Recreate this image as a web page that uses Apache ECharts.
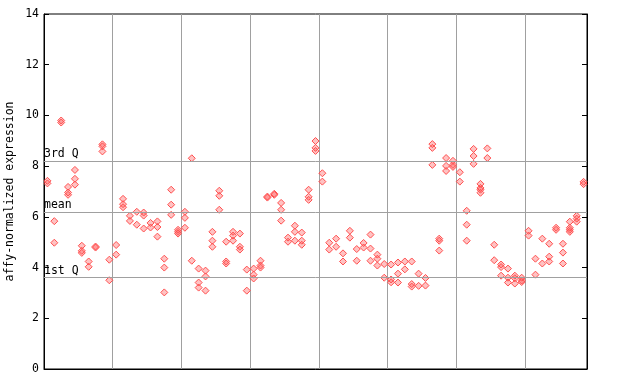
<!DOCTYPE html>
<html>
<head>
<meta charset="utf-8">
<script src="https://cdn.jsdelivr.net/npm/echarts@6/dist/echarts.min.js"></script>
<style>html,body{margin:0;padding:0;background:#fff}#c{width:640px;height:384px}</style>
</head>
<body>
<div id="c"></div>
<script>
// replicate expression values per sample (sample index = position on x axis)
const expression = [
  [7.42, 7.32], [5.83, 4.98], [9.80, 9.72], [7.18, 6.96, 6.87], [7.85, 7.5, 7.27],
  [4.86, 4.66, 4.58], [4.24, 4.03], [4.83, 4.79], [8.86, 8.78, 8.58], [4.31, 3.50],
  [4.89, 4.51], [6.71, 6.5, 6.38], [6.04, 5.84], [6.2, 5.69], [6.17, 6.05, 5.54],
  [5.76, 5.58], [5.82, 5.6, 5.22], [4.35, 4.0, 3.02], [7.07, 6.48, 6.08], [5.49, 5.41, 5.34],
  [6.2, 5.96, 5.57], [8.31, 4.27], [3.96, 3.41, 3.21], [3.88, 3.65, 3.09], [5.41, 5.06, 4.82],
  [7.03, 6.83, 6.28], [5.02, 4.24, 4.16], [5.41, 5.26, 5.06], [5.34, 4.82, 4.71], [3.92, 3.09],
  [3.96, 3.72, 3.57], [4.27, 4.08, 4.0], [6.8, 6.76], [6.91, 6.87], [6.55, 6.28, 5.85],
  [5.18, 5.02], [5.65, 5.41, 5.06], [5.38, 5.06, 4.9], [7.07, 6.79, 6.67], [8.99, 8.72, 8.6],
  [7.72, 7.39], [4.98, 4.71], [5.14, 4.82], [4.56, 4.24], [5.45, 5.18],
  [4.73, 4.27], [4.97, 4.79], [5.3, 4.75, 4.27], [4.51, 4.35, 4.08], [4.14, 3.6],
  [4.12, 3.53, 3.42], [4.2, 3.76, 3.41], [4.24, 3.93], [4.24, 3.35, 3.25], [3.76, 3.28],
  [3.59, 3.29], [8.87, 8.72, 8.05], [5.14, 5.06, 4.67], [8.32, 8.01, 7.81], [8.21, 8.05, 7.97],
  [7.76, 7.39], [6.24, 5.69, 5.06], [8.68, 8.4, 8.09], [7.3, 7.14, 7.07, 6.95], [8.7, 8.32],
  [4.9, 4.29], [4.12, 4.02, 3.68], [3.96, 3.6, 3.41], [3.68, 3.58, 3.37], [3.6, 3.49, 3.43],
  [5.45, 5.26], [4.35, 3.72], [5.14, 4.16], [4.94, 4.43, 4.24], [5.57, 5.49],
  [4.94, 4.59, 4.16], [5.81, 5.57, 5.49, 5.41], [6.04, 5.93, 5.81], [7.38, 7.29]
];
const refLabels = ['3rd Q', 'mean', '1st Q'];
const refValues = [8.21, 6.2, 3.6];
const yTicks = [0, 2, 4, 6, 8, 10, 12, 14];
const yTitle = 'affy-normalized expression';

const points = [];
expression.forEach((vals, i) => vals.forEach(v => points.push([i + 0.5, v])));

const mono = '"DejaVu Sans Mono", "Liberation Mono", monospace';
const chart = echarts.init(document.getElementById('c'), null, {renderer: 'canvas'});
chart.setOption({
  animation: false,
  backgroundColor: '#fff',
  grid: {left: 44, right: 53, top: 14, bottom: 15, containLabel: false, outerBoundsMode: 'none',
         show: true, borderColor: '#000', borderWidth: 1, backgroundColor: 'transparent'},
  xAxis: {
    type: 'value', min: 0, max: expression.length, interval: 10,
    axisLine: {show: true, lineStyle: {color: '#000'}},
    axisTick: {show: false}, axisLabel: {show: false},
    splitLine: {show: true, lineStyle: {color: '#a0a0a0', width: 1}}
  },
  yAxis: [{
    type: 'value', min: yTicks[0], max: yTicks[yTicks.length - 1], interval: 2,
    name: yTitle, nameLocation: 'middle', nameGap: 28, nameMoveOverlap: false,
    nameTextStyle: {fontFamily: mono, fontSize: 11.5, color: '#000'},
    axisLine: {show: true, lineStyle: {color: '#000'}},
    axisTick: {show: true, inside: true, length: 5, lineStyle: {color: '#000'}},
    axisLabel: {fontFamily: mono, fontSize: 11.5, color: '#000', margin: 5},
    splitLine: {show: false}
  }, {
    type: 'value', position: 'right', min: yTicks[0], max: yTicks[yTicks.length - 1], interval: 2,
    axisLine: {show: true, lineStyle: {color: '#000'}},
    axisTick: {show: true, inside: true, length: 5, lineStyle: {color: '#000'}},
    axisLabel: {show: false}, splitLine: {show: false}
  }],
  series: [{
    type: 'scatter',
    data: points,
    symbol: 'diamond',
    symbolSize: 7,
    itemStyle: {color: 'rgba(255,80,80,0.35)', borderColor: '#ff5050', borderWidth: 1, opacity: 1},
    z: 3,
    markLine: {
      silent: true,
      symbol: 'none',
      animation: false,
      lineStyle: {color: '#a0a0a0', width: 1, type: 'solid'},
      label: {show: true, position: 'insideStartTop', formatter: '{b}', fontFamily: mono, fontSize: 11.5, color: '#000', distance: [0, 1]},
      emphasis: {disabled: true},
      data: refValues.map((v, k) => ({yAxis: v, name: refLabels[k]}))
    }
  }]
});
</script>
</body>
</html>
